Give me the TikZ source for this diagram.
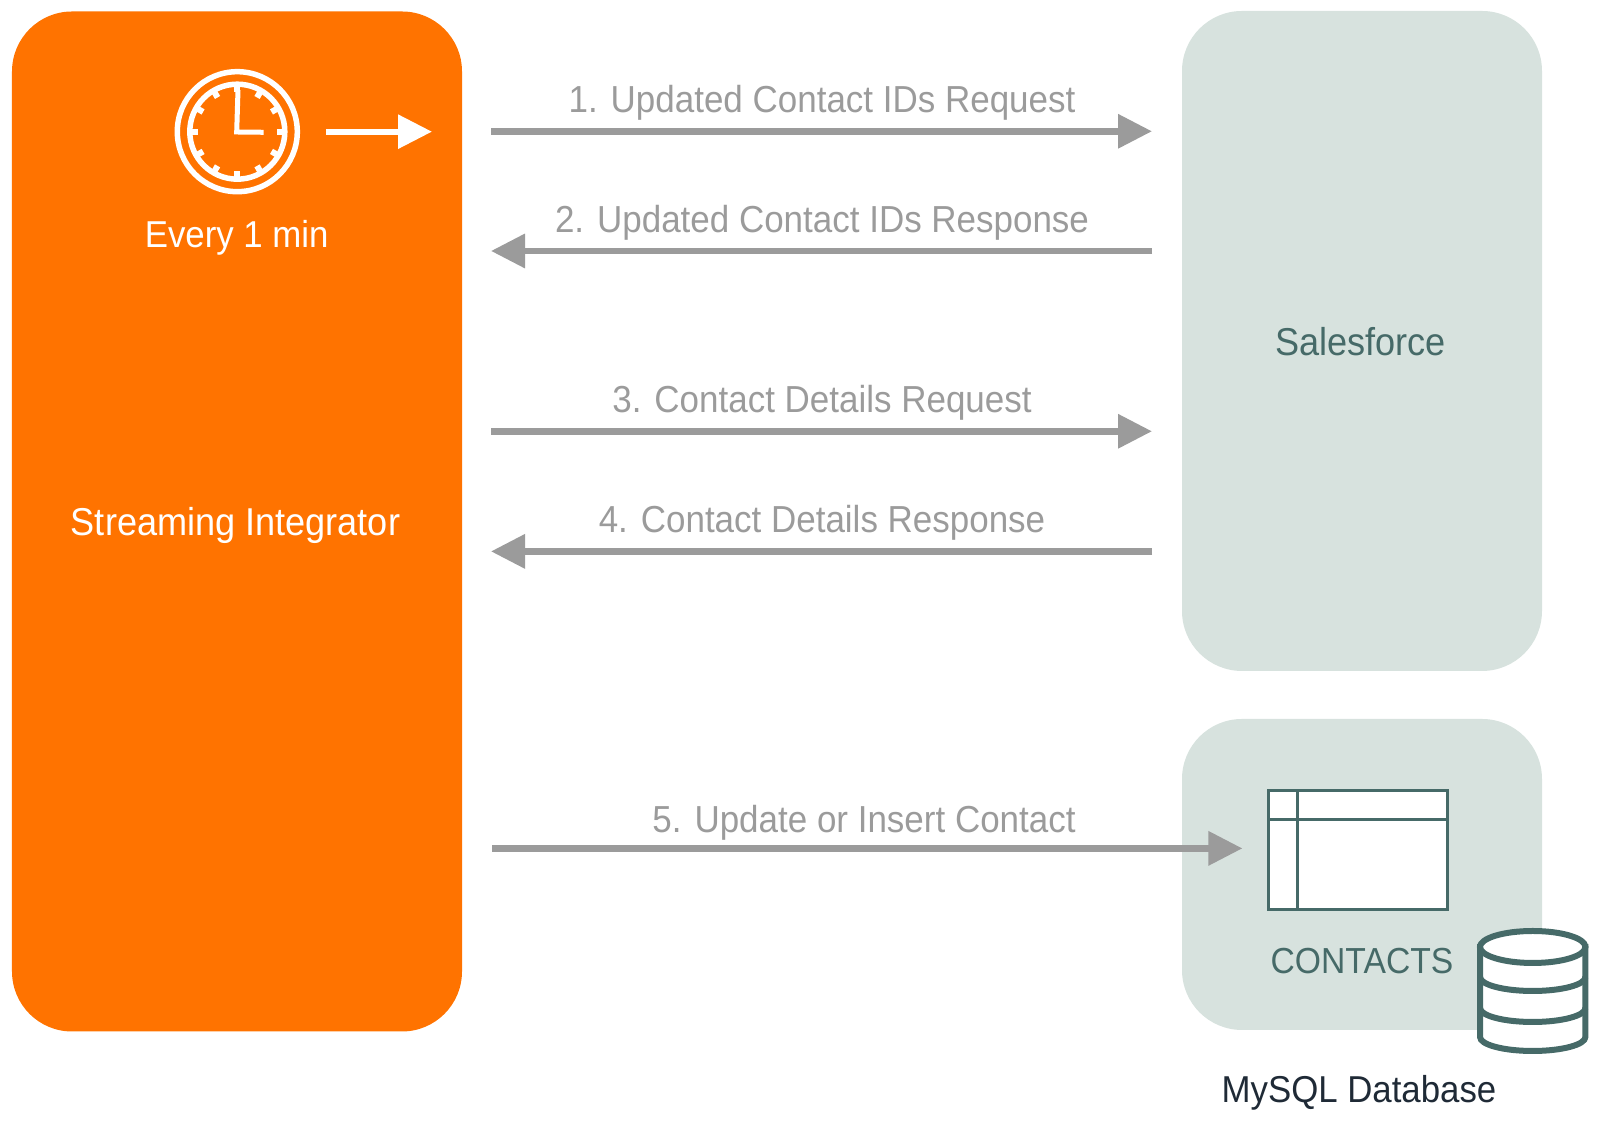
\documentclass[tikz,border=0pt]{standalone}
\usepackage{fontspec}
\setmainfont[FakeStretch=0.93]{Liberation Sans}
\usetikzlibrary{arrows.meta}
\definecolor{siorange}{HTML}{FF7300}
\definecolor{panelgreen}{HTML}{D7E2DE}
\definecolor{deepgreen}{HTML}{466A68}
\definecolor{flowgray}{HTML}{9B9B9B}
\definecolor{inkdark}{HTML}{1F2A36}
\tikzset{
	panel/.style={fill=panelgreen,draw=none,rounded corners=0.6cm,inner sep=0pt,minimum width=3.6cm},
	caption/.style={anchor=base,inner sep=0pt,font=\fontsize{10.7pt}{12pt}\selectfont},
	bigcaption/.style={caption,font=\fontsize{11.05pt}{12pt}\selectfont},
	flow/.style={draw=flowgray,line width=0.065cm,-{Triangle[length=0.34cm,width=0.33cm]}},
	iconline/.style={draw=deepgreen,line width=0.06cm}
}
\begin{document}
\begin{tikzpicture}[>=stealth,x=1cm,y=-1cm]
	\useasboundingbox (0,0) rectangle (15.98,11.27);
	% panels
	\node[panel,fill=siorange,minimum width=4.5cm,minimum height=10.2cm] (streaming) at (2.37,5.215) {};
	\node[panel,minimum height=6.6cm] (salesforce) at (13.62,3.41) {};
	\node[panel,minimum height=3.11cm] (mysql) at (13.62,8.745) {};
	\node[bigcaption,text=white] (streamlabel) at (2.355,5.36) {Streaming Integrator};
	\node[bigcaption,text=deepgreen] (salesforcelabel) at (13.605,3.56) {Salesforce};
	\node[caption,font=\fontsize{10.3pt}{12pt}\selectfont,text=deepgreen] (contactslabel) at (13.62,9.74) {CONTACTS};
	\node[caption,font=\fontsize{10.65pt}{12pt}\selectfont,text=inkdark] (mysqllabel) at (13.59,11.03) {MySQL Database};
	\node[caption,font=\fontsize{10.65pt}{12pt}\selectfont,text=white] (everylabel) at (2.367,2.475) {Every 1 min};
	% clock
	\coordinate (clock) at (2.373,1.317);
	\draw[white,line width=0.055cm] (clock) circle (0.6) (clock) circle (0.475);
	\foreach \a in {0,30,...,330}
	\draw[white,line width=0.06cm,shift={(clock)}] (\a:0.47)--(\a:0.395);
	\draw[white,line width=0.05cm,line join=miter] (2.38,0.9)--(2.367,1.32)--(2.637,1.323);
	\coordinate (tickstart) at (3.26,1.317);
	\coordinate (tickend) at (4.32,1.317);
	\draw[white,line width=0.06cm,-{Triangle[length=0.34cm,width=0.33cm]}] (tickstart)--(tickend);
	% flows
	\foreach \n/\y/\base/\txt in {1/1.313/1.125/1. Updated Contact IDs Request,3/4.313/4.125/3. Contact Details Request}{
		\coordinate (from\n) at (4.91,\y);
		\coordinate (to\n) at (11.52,\y);
		\draw[flow] (from\n)--(to\n);
		\node[caption,text=flowgray] (flowlabel\n) at (8.22,\base) {\txt};
	}
	\foreach \n/\y/\base/\txt in {2/2.51/2.322/2. Updated Contact IDs Response,4/5.514/5.325/4. Contact Details Response}{
		\coordinate (from\n) at (11.52,\y);
		\coordinate (to\n) at (4.91,\y);
		\draw[flow] (from\n)--(to\n);
		\node[caption,text=flowgray] (flowlabel\n) at (8.22,\base) {\txt};
	}
	% contacts table
	\draw[iconline,fill=white,line width=0.03cm] (12.685,7.905) rectangle (14.475,9.095);
	\draw[iconline,line width=0.03cm] (12.977,7.905)--(12.977,9.095) (12.685,8.2)--(14.475,8.2);
	\coordinate (from5) at (4.92,8.484);
	\coordinate (to5) at (12.424,8.484);
	\draw[flow] (from5)--(to5);
	\node[caption,text=flowgray] (flowlabel5) at (8.64,8.33) {5. Update or Insert Contact};
	% database
	\draw[iconline,fill=white] (14.8,9.47)--(14.8,10.37) arc[start angle=180,end angle=0,x radius=0.527,y radius=0.14]--(15.854,9.47)--cycle;
	\draw[iconline,fill=white] (15.327,9.47) ellipse[x radius=0.527,y radius=0.16];
	\draw[iconline] (14.8,9.77) arc[start angle=180,end angle=0,x radius=0.527,y radius=0.14];
	\draw[iconline] (14.8,10.08) arc[start angle=180,end angle=0,x radius=0.527,y radius=0.14];
\end{tikzpicture}
\end{document}
